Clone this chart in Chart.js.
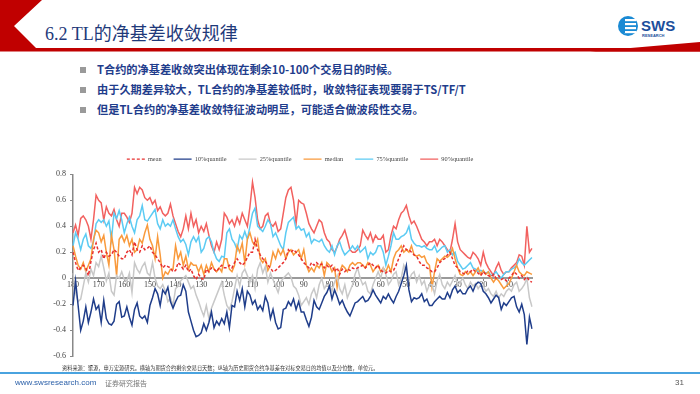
<!DOCTYPE html>
<html><head><meta charset="utf-8">
<script src="https://cdn.jsdelivr.net/npm/chart.js@4/dist/chart.umd.min.js"></script>
<style>
html,body{margin:0;padding:0;background:#fff;width:700px;height:394px;overflow:hidden;position:relative;font-family:"Noto Sans CJK SC","Noto Sans",sans-serif;}
#hdr{position:absolute;left:0;top:0;}
#title{position:absolute;left:45px;top:19px;font-family:"Liberation Serif","Noto Sans CJK SC",serif;font-size:18px;color:#1f3a7a;white-space:nowrap;}
#logo{position:absolute;left:618px;top:14px;width:70px;height:26px;}
.bul{position:absolute;left:97px;font-size:11.2px;font-weight:bold;color:#1f3d8c;white-space:nowrap;}
.sq{position:absolute;left:80px;width:6px;height:6px;background:#9a9a9a;}
#chartbox{position:absolute;left:50px;top:144px;width:500px;height:221px;}
#note{position:absolute;left:62px;top:364px;font-size:5.2px;color:#333;white-space:nowrap;}
#bline{position:absolute;left:0;top:372px;width:700px;height:2px;background:#4aa3df;}
#url{position:absolute;left:15px;top:378px;font-family:"Liberation Sans",sans-serif;font-size:8px;color:#2a5fa8;}
#rep{position:absolute;left:105px;top:378px;font-size:7px;color:#777;}
#pg{position:absolute;left:675px;top:378px;font-family:"Liberation Sans",sans-serif;font-size:8px;color:#555;}
</style></head>
<body>
<svg id="hdr" width="700" height="56">
  <polygon points="0,0 42,0 14,26 37,49 0,49" fill="#c00000"/>
  <rect x="0" y="48" width="700" height="3.5" fill="#c00000"/>
  <polygon points="590,51.5 700,42 700,51.5" fill="#c00000"/>
</svg>
<div id="title">6.2 TL的净基差收敛规律</div>
<svg id="logo" width="70" height="26">
  <circle cx="10" cy="12" r="10" fill="#1a8ad4"/>
  <rect x="6" y="5" width="12" height="2.2" fill="#fff"/>
  <rect x="6" y="9" width="12" height="2.2" fill="#fff"/>
  <rect x="6" y="13" width="12" height="2.2" fill="#fff"/>
  <rect x="6" y="17" width="12" height="2.2" fill="#fff"/>
  <rect x="4" y="5" width="3" height="14" fill="#1a8ad4"/>
  <text x="23" y="17" font-family="Liberation Sans" font-weight="bold" font-size="15" fill="#1c4f9c">SWS</text>
  <text x="24" y="23" font-family="Liberation Sans" font-weight="bold" font-size="4" fill="#1c4f9c">RESEARCH</text>
</svg>
<div class="sq" style="top:67px"></div><div class="bul" style="top:61px">T合约的净基差收敛突出体现在剩余10-100个交易日的时候。</div>
<div class="sq" style="top:87px"></div><div class="bul" style="top:81px">由于久期差异较大，TL合约的净基差较低时，收敛特征表现要弱于TS/TF/T</div>
<div class="sq" style="top:107px"></div><div class="bul" style="top:101px">但是TL合约的净基差收敛特征波动明显，可能适合做波段性交易。</div>
<div id="chartbox"><canvas id="c"></canvas></div>
<div id="note">资料来源：聚源，申万宏源研究。横轴为期货合约剩余交易日天数；纵轴为历史期货合约净基差在对标交易日的均值以及分位数，单位元。</div>
<div id="bline"></div>
<div id="url">www.swsresearch.com</div>
<div id="rep">证券研究报告</div>
<div id="pg">31</div>
<script>
// categories: remaining trading days, 180 -> 1
const days = [];
for (let d = 180; d >= 1; d--) days.push(d);

const seriesNames = ['mean', '10%quantile', '25%quantile', 'median', '75%quantile', '90%quantile'];

const meanVals = [
0.20,0.12,0.06,0.08,0.10,0.08,0.02,0.13,0.22,0.27,
0.20,0.22,0.15,0.20,0.17,0.18,0.22,0.20,0.17,0.15,
0.15,0.20,0.22,0.18,0.28,0.22,0.20,0.25,0.22,0.23,
0.25,0.20,0.18,0.15,0.12,0.08,0.10,0.09,0.08,0.05,
0.06,0.12,0.10,0.07,0.10,0.05,0.07,0.02,-0.01,0.03,
0.00,-0.01,0.07,0.05,0.08,0.07,0.05,0.08,0.10,0.08,
0.08,0.10,0.08,0.12,0.15,0.12,0.10,0.12,0.16,0.20,
0.20,0.30,0.22,0.18,0.15,0.13,0.10,0.08,0.05,0.06,
0.08,0.10,0.12,0.15,0.22,0.20,0.22,0.20,0.18,0.15,
0.12,0.10,0.08,0.12,0.10,0.12,0.10,0.11,0.08,0.10,
0.08,0.10,0.05,0.08,0.03,0.07,0.05,0.07,0.06,0.08,
0.07,0.08,0.09,0.10,0.08,0.10,0.12,0.10,0.08,0.10,
0.06,0.05,0.04,0.06,0.05,0.06,0.10,0.15,0.20,0.25,
0.22,0.22,0.20,0.18,0.17,0.13,0.10,0.10,0.08,0.07,
0.05,0.05,0.08,0.12,0.14,0.15,0.18,0.20,0.15,0.10,
0.08,0.05,0.04,0.03,0.06,0.05,0.07,0.05,0.04,0.02,
0.05,0.03,0.02,0.01,0.03,0.00,0.02,-0.01,0.00,-0.02,
0.00,0.02,0.05,0.03,0.00,0.02,-0.01,0.01,-0.02,-0.03];

const q10Vals = [
-0.21,-0.02,-0.21,-0.40,-0.33,-0.22,-0.34,-0.26,-0.16,-0.24,
-0.21,-0.34,-0.17,-0.31,-0.35,-0.36,-0.33,-0.20,-0.18,-0.30,
-0.29,-0.22,-0.30,-0.36,-0.24,-0.19,-0.29,-0.31,-0.29,-0.34,
-0.21,-0.15,-0.08,-0.12,-0.21,-0.09,-0.12,-0.07,-0.18,-0.23,
-0.18,-0.14,-0.13,-0.05,-0.10,-0.26,-0.33,-0.40,-0.45,-0.44,
-0.42,-0.35,-0.40,-0.34,-0.26,-0.38,-0.33,-0.36,-0.31,-0.35,
-0.26,-0.38,-0.21,-0.22,-0.10,-0.17,-0.08,-0.22,-0.10,-0.13,
-0.20,-0.17,-0.24,-0.21,-0.25,-0.14,-0.19,-0.31,-0.24,-0.34,
-0.39,-0.38,-0.24,-0.23,-0.18,-0.21,-0.16,-0.24,-0.18,-0.26,
-0.26,-0.32,-0.37,-0.30,-0.17,-0.22,-0.24,-0.19,-0.14,-0.11,
-0.06,-0.16,-0.09,-0.14,-0.20,-0.17,-0.22,-0.26,-0.29,-0.24,
-0.19,-0.18,-0.16,-0.14,-0.18,-0.17,-0.14,-0.09,-0.13,-0.16,
-0.19,-0.14,-0.16,-0.12,-0.16,-0.19,-0.14,-0.10,-0.04,0.02,
0.10,-0.09,-0.18,-0.15,-0.16,-0.15,-0.12,-0.18,-0.16,-0.21,
-0.21,-0.18,-0.16,-0.14,-0.16,-0.16,-0.11,-0.15,-0.09,-0.06,
-0.11,-0.09,-0.12,-0.12,-0.08,-0.06,-0.10,-0.05,-0.03,-0.04,
-0.10,-0.12,-0.15,-0.19,-0.16,-0.13,-0.15,-0.24,-0.19,-0.21,
-0.18,-0.15,-0.14,-0.22,-0.26,-0.20,-0.28,-0.51,-0.30,-0.39];

const q25Vals = [
0.04,-0.11,-0.18,-0.16,-0.06,0.04,-0.03,0.07,0.02,0.12,
0.09,0.17,0.08,-0.02,0.04,-0.10,-0.13,0.02,0.00,0.05,
-0.01,-0.02,0.04,-0.11,0.12,0.07,0.04,0.09,0.12,0.04,
0.02,0.12,0.00,-0.06,-0.08,-0.05,-0.10,-0.18,-0.15,-0.21,
-0.08,-0.06,-0.02,0.00,0.02,-0.03,-0.08,-0.06,-0.13,-0.18,
-0.24,-0.29,-0.21,-0.31,-0.23,-0.18,-0.13,-0.08,-0.03,-0.13,
-0.21,-0.24,-0.18,-0.08,0.02,-0.06,0.04,0.07,0.02,-0.03,
0.02,-0.08,0.07,0.12,0.04,0.09,-0.03,0.04,-0.01,-0.06,
-0.11,-0.03,0.00,0.02,0.04,0.01,-0.06,-0.08,-0.13,-0.21,
-0.18,-0.15,-0.20,-0.12,-0.08,-0.15,-0.05,0.00,-0.08,-0.05,
-0.05,-0.10,-0.03,0.02,-0.08,-0.12,-0.05,-0.15,-0.10,-0.05,
0.03,0.08,0.00,-0.05,-0.03,-0.10,-0.12,-0.05,0.00,0.05,
0.00,0.08,0.03,-0.05,-0.02,0.03,0.05,-0.05,0.00,0.10,
0.05,-0.02,0.03,0.05,-0.03,0.02,-0.05,-0.02,-0.10,-0.05,
-0.05,-0.12,-0.02,0.03,-0.05,-0.08,-0.03,-0.06,-0.02,0.02,
-0.05,-0.03,0.00,-0.05,-0.08,-0.03,-0.06,-0.04,-0.08,-0.05,
-0.06,-0.10,-0.08,-0.12,-0.14,-0.10,-0.15,-0.12,-0.14,-0.10,
-0.08,-0.10,-0.05,-0.03,-0.10,-0.08,-0.05,0.00,-0.15,-0.22];

const medianVals = [
0.25,0.17,0.10,0.07,0.12,0.05,0.10,0.15,0.30,0.37,
0.35,0.28,0.33,0.20,0.10,0.33,0.22,0.02,0.30,0.33,
0.28,0.33,0.25,0.30,0.20,0.22,0.30,0.27,0.35,0.41,
0.30,0.25,0.15,0.32,0.18,0.00,0.05,0.03,0.07,0.07,
0.25,0.15,0.20,0.10,0.17,0.07,0.12,0.10,0.10,0.05,
0.10,0.03,0.10,0.05,0.12,0.07,0.05,0.08,0.05,0.15,
0.15,0.07,0.05,0.10,0.25,0.20,0.27,0.12,0.30,0.35,
0.28,0.25,0.30,0.15,0.12,0.15,0.06,0.10,0.20,0.15,
0.22,0.18,0.22,0.15,0.20,0.22,0.18,0.20,0.22,0.15,
0.22,0.10,0.05,0.08,0.05,0.10,0.08,0.12,0.02,0.12,
0.10,0.05,0.08,-0.07,0.05,0.10,0.08,0.05,0.10,0.12,
0.10,0.12,0.12,0.10,0.08,0.12,0.10,0.05,0.08,0.10,
0.05,0.08,0.05,0.10,0.05,0.15,0.20,0.22,0.25,0.20,
0.22,0.20,0.25,0.18,0.17,0.18,0.16,0.17,0.12,0.10,
-0.07,0.05,0.15,0.13,0.15,0.17,0.16,0.18,0.23,0.15,
0.08,0.03,0.02,0.05,0.03,0.05,0.02,0.05,0.08,0.03,
0.06,0.03,0.05,0.00,-0.03,0.00,-0.02,-0.05,-0.08,-0.06,
-0.04,0.00,0.05,0.10,0.05,0.03,0.02,0.05,0.04,0.03];

const q75Vals = [
0.25,0.35,0.30,0.22,0.30,0.34,0.25,0.23,0.28,0.42,
0.45,0.43,0.45,0.40,0.44,0.30,0.50,0.46,0.52,0.45,
0.35,0.42,0.47,0.40,0.35,0.45,0.48,0.56,0.45,0.44,
0.47,0.50,0.53,0.42,0.38,0.45,0.40,0.42,0.40,0.45,
0.38,0.32,0.28,0.30,0.26,0.18,0.28,0.32,0.28,0.32,
0.20,0.23,0.30,0.32,0.28,0.20,0.15,0.13,0.17,0.16,
0.35,0.38,0.30,0.27,0.22,0.33,0.30,0.36,0.30,0.40,
0.50,0.54,0.40,0.38,0.36,0.40,0.45,0.42,0.32,0.35,
0.30,0.25,0.22,0.35,0.43,0.45,0.47,0.38,0.40,0.37,
0.38,0.32,0.35,0.27,0.30,0.29,0.28,0.30,0.25,0.22,
0.20,0.25,0.18,0.25,0.28,0.22,0.18,0.20,0.22,0.25,
0.22,0.25,0.20,0.22,0.24,0.15,0.20,0.18,0.20,0.25,
0.25,0.20,0.10,0.17,0.25,0.35,0.30,0.30,0.32,0.33,
0.35,0.40,0.30,0.27,0.25,0.25,0.24,0.25,0.23,0.22,
0.22,0.25,0.20,0.22,0.24,0.25,0.20,0.22,0.18,0.20,
0.13,0.10,0.07,0.08,0.10,0.12,0.08,0.07,0.05,0.06,
0.05,0.04,0.05,0.02,0.03,0.05,0.02,0.00,0.03,0.05,
0.05,0.07,0.08,0.10,0.15,0.12,0.10,0.12,0.14,0.16];

const q90Vals = [
0.35,0.41,0.33,0.46,0.48,0.45,0.40,0.30,0.45,0.64,
0.60,0.58,0.45,0.55,0.50,0.48,0.53,0.45,0.40,0.50,
0.50,0.47,0.43,0.50,0.70,0.65,0.70,0.68,0.62,0.60,
0.62,0.57,0.60,0.52,0.55,0.50,0.48,0.50,0.57,0.48,
0.42,0.36,0.32,0.38,0.48,0.38,0.50,0.40,0.45,0.35,
0.40,0.36,0.42,0.33,0.25,0.20,0.28,0.22,0.30,0.50,
0.47,0.42,0.45,0.40,0.47,0.42,0.50,0.45,0.40,0.55,
0.74,0.62,0.45,0.38,0.40,0.48,0.50,0.42,0.40,0.43,
0.36,0.38,0.50,0.62,0.68,0.70,0.60,0.42,0.60,0.58,
0.57,0.50,0.42,0.38,0.35,0.40,0.45,0.43,0.35,0.30,
0.28,0.22,0.20,0.24,0.30,0.33,0.37,0.30,0.22,0.20,
0.20,0.22,0.25,0.37,0.33,0.30,0.35,0.28,0.33,0.30,
0.30,0.33,0.20,0.22,0.33,0.40,0.38,0.45,0.50,0.52,
0.56,0.48,0.42,0.44,0.40,0.35,0.30,0.28,0.25,0.28,
0.28,0.30,0.25,0.30,0.28,0.25,0.22,0.20,0.30,0.42,
0.28,0.22,0.20,0.18,0.16,0.15,0.20,0.18,0.15,0.10,
0.20,0.12,0.08,0.05,0.02,0.08,0.12,0.06,0.03,0.05,
0.05,0.08,0.10,0.12,0.18,0.17,0.10,0.40,0.20,0.23];

const yTicks = [-0.6, -0.4, -0.2, 0, 0.2, 0.4, 0.6, 0.8];

function ds(label, data, color, dash) {
  return {label, data, borderColor: color, backgroundColor: color, borderWidth: 1.5,
    borderDash: dash || [], pointRadius: 0, pointStyle: 'line', tension: 0, fill: false, yAxisID: 'y'};
}

const legendGap = {
  id: 'legendGap',
  beforeInit(chart) {
    const fit = chart.legend.fit;
    chart.legend.fit = function() { fit.call(this); this.height += 2; };
  }
};

new Chart(document.getElementById('c'), {
  type: 'line',
  data: {
    labels: days,
    datasets: [
      ds(seriesNames[0], meanVals, '#e8302f', [3, 2]),
      ds(seriesNames[1], q10Vals, '#1f3d8a'),
      ds(seriesNames[2], q25Vals, '#c8c8c8'),
      ds(seriesNames[3], medianVals, '#f99a3c'),
      ds(seriesNames[4], q75Vals, '#5ccbf3'),
      ds(seriesNames[5], q90Vals, '#f2615f')
    ]
  },
  plugins: [legendGap],
  options: {
    responsive: true, maintainAspectRatio: false, animation: false,
    layout: {padding: 0},
    plugins: {
      legend: {
        position: 'top',
        labels: {usePointStyle: true, pointStyleWidth: 18, boxHeight: 6, padding: 12,
          font: {family: 'Liberation Serif', size: 6.3}, color: '#444',
          generateLabels: chart => Chart.defaults.plugins.legend.labels.generateLabels(chart).map(l => {
            const d = chart.data.datasets[l.datasetIndex];
            l.lineDash = d.borderDash; l.lineWidth = 1.3; l.strokeStyle = d.borderColor; l.fillStyle = d.borderColor;
            return l;
          })}
      },
      tooltip: {enabled: false}
    },
    scales: {
      x: {
        type: 'category',
        position: {y: 0},
        grid: {drawOnChartArea: false, drawTicks: true, tickLength: 2, color: '#888'},
        border: {color: '#9a9a9a', width: 2},
        ticks: {autoSkip: false, maxRotation: 0, minRotation: 0, padding: 0,
          font: {family: 'Liberation Serif', size: 8}, color: '#444',
          callback: function(v, i) { const d = days[i]; return d % 10 === 0 ? String(d) : null; }}
      },
      y: {
        position: 'left',
        min: -0.6, max: 0.8,
        afterBuildTicks: s => { s.ticks = yTicks.map(v => ({value: v})); },
        afterFit: s => { s.width = 23; },
        grid: {drawOnChartArea: false, drawTicks: true, tickLength: 3, color: '#888'},
        border: {color: '#888', width: 1.5},
        ticks: {font: {family: 'Liberation Serif', size: 8}, color: '#444', padding: 4,
          callback: v => String(Math.round(v * 10) / 10)}
      },
      yRightSpace: {
        position: 'right',
        min: -0.6, max: 0.8,
        afterFit: s => { s.width = 18; },
        grid: {display: false},
        border: {display: false},
        ticks: {display: false}
      }
    }
  }
});
</script>
</body></html>
